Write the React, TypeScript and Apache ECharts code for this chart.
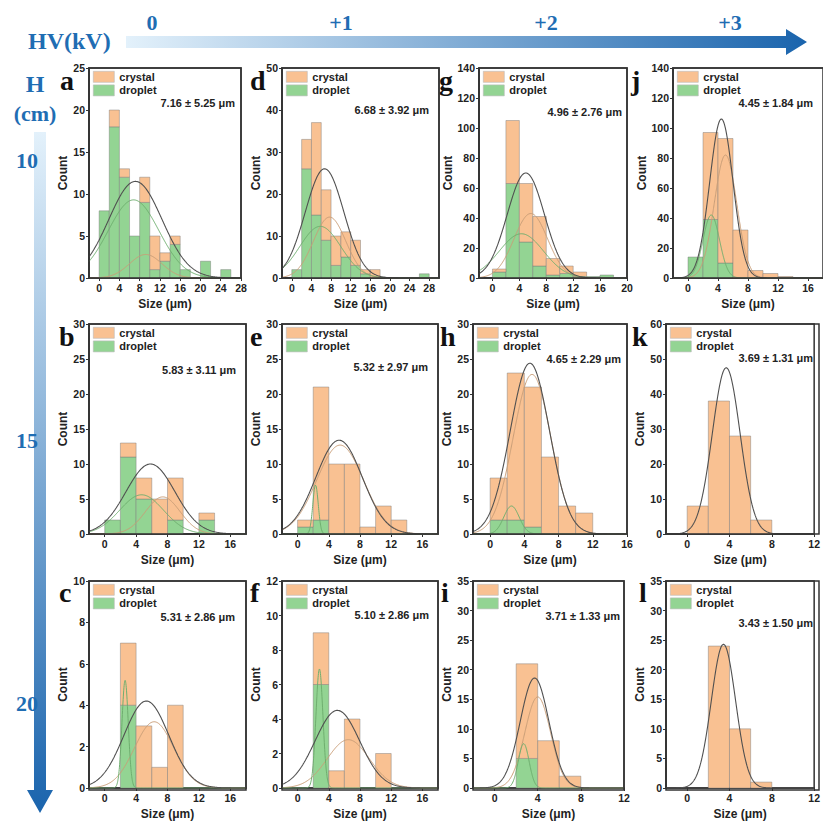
import React, { useEffect, useRef } from 'react';
import * as echarts from 'echarts';

// ---------------- data ----------------
const panelIds = ['a', 'd', 'g', 'j', 'b', 'e', 'h', 'k', 'c', 'f', 'i', 'l'];
const meanLabels = [
  '7.16 ± 5.25 μm', '6.68 ± 3.92 μm', '4.96 ± 2.76 μm', '4.45 ± 1.84 μm',
  '5.83 ± 3.11 μm', '5.32 ± 2.97 μm', '4.65 ± 2.29 μm', '3.69 ± 1.31 μm',
  '5.31 ± 2.86 μm', '5.10 ± 2.86 μm', '3.71 ± 1.33 μm', '3.43 ± 1.50 μm',
];
const binWidth = 2;
// droplet counts per 2 µm bin starting at 0
const dropletCounts = [
  [8, 18, 12, 5, 9, 1, 2, 4, 1, 0, 2, 0, 1],
  [2, 26, 15, 9, 3, 5, 3, 1, 0, 0, 0, 0, 0, 1],
  [4, 63, 24, 8, 2, 3, 1, 1, 2],
  [14, 39, 10, 0, 0, 0, 0],
  [2, 11, 5, 0, 2, 0, 2],
  [1, 2, 0, 0, 0, 0, 0],
  [2, 2, 1, 0, 0, 0],
  [0, 0, 0, 0],
  [0, 4, 0, 0, 0],
  [0, 6, 0, 0, 0, 0],
  [0, 5, 0, 0],
  [0, 0, 0, 0],
];
// crystal counts (stacked on top of droplet)
const crystalCounts = [
  [0, 2, 1, 0, 3, 4, 1, 1, 0, 0, 0, 0, 0],
  [0, 7, 22, 12, 7, 6, 6, 1, 2, 0, 0, 0, 0, 0],
  [2, 42, 39, 33, 11, 5, 3, 0, 0],
  [0, 58, 83, 32, 5, 3, 1],
  [0, 2, 3, 5, 6, 0, 1],
  [1, 19, 10, 10, 1, 4, 2],
  [6, 21, 20, 11, 4, 3],
  [8, 38, 28, 4],
  [0, 3, 3, 1, 4],
  [0, 3, 1, 4, 0, 2],
  [0, 16, 8, 2],
  [0, 24, 10, 1],
];
// Gaussian fits: [peak, centre, width]
const fitTotal = [
  [11.5, 7.16, 5.25], [26, 6.68, 3.92], [70, 4.96, 2.76], [106, 4.45, 1.55],
  [10, 5.83, 3.11], [13.4, 5.32, 2.97], [24.4, 4.65, 2.29], [47.5, 3.69, 1.31],
  [4.2, 5.31, 2.86], [4.5, 5.1, 2.86], [18.6, 3.71, 1.33], [24.3, 3.43, 1.15],
];
const fitCrystal = [
  [2.8, 9.2, 3.2], [14.5, 7.7, 3.3], [43, 5.7, 2.5], [82, 5.0, 1.5],
  [5.3, 7.4, 2.2], [12.7, 5.45, 3.0], [22.8, 4.9, 2.2], null,
  [3.2, 6.3, 2.5], [2.8, 6.5, 2.7], [15.4, 4.0, 1.2], null,
];
const fitDroplet = [
  [9.3, 6.8, 5.0], [12.3, 5.8, 4.2], [29.5, 4.3, 3.3], [42, 3.1, 1.1],
  [5.6, 4.7, 2.8], [7, 2.3, 0.35], [4, 2.5, 0.9], null,
  [5.2, 2.6, 0.4], [6.9, 2.8, 0.45], [7.5, 2.7, 0.5], null,
];
const xMin = -2;
const xMax = [28, 30, 20, 18, 18, 18, 16, 12, 18, 18, 12, 12];
const xTickMax = [28, 28, 20, 16, 16, 16, 16, 12, 16, 16, 12, 12];
const xStep = 4;
const yMax = [25, 50, 140, 140, 30, 30, 30, 60, 10, 12, 35, 35];
const yStep = [5, 10, 20, 20, 5, 5, 5, 10, 2, 2, 5, 5];
const hvLabels = ['0', '+1', '+2', '+3'];
const hLabels = ['10', '15', '20'];

// ---------------- layout ----------------
// [left, top, right, bottom] of each plot box
const boxes = [
  [89, 68, 241, 278], [282, 68, 439, 278], [479, 68, 627, 278], [673, 68, 825, 278],
  [89, 324, 246, 534], [282, 324, 438, 534], [473, 324, 627, 534], [666, 324, 819, 534],
  [89, 581, 246, 790], [282, 581, 438, 790], [473, 581, 624, 790], [666, 581, 819, 790],
];
const annotPos = [
  [235, 103], [429, 110], [622, 112], [813, 103],
  [236, 370], [428, 367], [621, 359], [813, 358],
  [235, 617], [429, 615], [620, 616], [813, 623],
];
const letterPos = [
  [60, 66], [250, 66], [439, 66], [631, 66],
  [59, 322], [250, 322], [440, 322], [632, 322],
  [59, 578], [250, 578], [441, 578], [639, 578],
];
const hvX = [152, 341, 546, 730];
const hY = [160, 440, 703];

const SANS = 'Liberation Sans, Arial, sans-serif';
const SERIF = 'Liberation Serif, Times New Roman, serif';
const BLUE = '#1f6db3';
const ORANGE = '#f9c192';
const GREEN = '#93d493';
const AXIS = '#333333';

function gauss(p: number[] | null, max: number) {
  if (!p) return [];
  const pts: number[][] = [];
  for (let k = 0; k <= (max - xMin) * 40; k++) {
    const x = xMin + k / 40;
    pts.push([x, p[0] * Math.exp(-((x - p[1]) ** 2) / (2 * p[2] * p[2]))]);
  }
  return pts;
}

function ticks(max: number) {
  const t: number[] = [];
  for (let v = 0; v <= max; v += xStep) t.push(v);
  return t;
}

function buildOption() {
  const grid: any[] = [];
  const xAxis: any[] = [];
  const yAxis: any[] = [];
  const series: any[] = [];
  const legend: any[] = [];
  const graphic: any[] = [];

  panelIds.forEach((id, i) => {
    const [l, t, r, b] = boxes[i];
    grid.push({
      left: l, top: t, width: r - l, height: b - t,
      show: true, borderColor: AXIS, borderWidth: 1.5, backgroundColor: 'rgba(255,255,255,0)',
    });
    const tv = ticks(xTickMax[i]);
    xAxis.push({
      type: 'value', gridIndex: i, min: xMin, max: xMax[i], position: 'bottom',
      axisLine: { show: true, onZero: false, lineStyle: { color: AXIS, width: 1.5 } },
      axisTick: { show: true, length: 3, customValues: tv, lineStyle: { color: AXIS } },
      axisLabel: { customValues: tv, fontSize: 10.5, fontWeight: 'bold', color: '#222', margin: 4, fontFamily: SANS },
      splitLine: { show: false },
      name: 'Size (μm)', nameLocation: 'middle', nameGap: 20,
      nameTextStyle: { fontSize: 12, fontWeight: 'bold', color: '#222', fontFamily: SANS },
    });
    yAxis.push({
      type: 'value', gridIndex: i, min: 0, max: yMax[i], interval: yStep[i], position: 'left',
      axisLine: { show: true, onZero: false, lineStyle: { color: AXIS, width: 1.5 } },
      axisTick: { show: true, length: 3, lineStyle: { color: AXIS } },
      axisLabel: { fontSize: 10.5, fontWeight: 'bold', color: '#222', margin: 4, fontFamily: SANS },
      splitLine: { show: false },
      name: 'Count', nameLocation: 'middle', nameGap: yMax[i] >= 100 ? 22 : 17,
      nameTextStyle: { fontSize: 12, fontWeight: 'bold', color: '#222', fontFamily: SANS },
    });
    // frame of the plot box (top and right edges)
    graphic.push({
      type: 'rect', z: 50, silent: true,
      shape: { x: l, y: t, width: r - l, height: b - t },
      style: { fill: 'rgba(0,0,0,0)', stroke: AXIS, lineWidth: 1.5 },
    });

    const dropData: number[][] = [];
    const crysData: number[][] = [];
    dropletCounts[i].forEach((d, k) => {
      const c = crystalCounts[i][k];
      const x0 = k * binWidth;
      if (d > 0) dropData.push([x0, x0 + binWidth, 0, d]);
      if (c > 0) crysData.push([x0, x0 + binWidth, d, d + c]);
    });
    const rectSeries = (name: string, data: number[][], color: string) => ({
      type: 'custom', name, xAxisIndex: i, yAxisIndex: i, data, z: 2,
      itemStyle: { color },
      encode: { x: [0, 1], y: [2, 3] },
      renderItem: (_p: any, api: any) => {
        const p0 = api.coord([api.value(0), api.value(3)]);
        const p1 = api.coord([api.value(1), api.value(2)]);
        return {
          type: 'rect',
          shape: { x: p0[0], y: p0[1], width: p1[0] - p0[0], height: p1[1] - p0[1] },
          style: { fill: color, stroke: 'rgba(120,120,120,0.55)', lineWidth: 0.8 },
        };
      },
    });
    series.push(rectSeries('droplet', dropData, GREEN));
    series.push(rectSeries('crystal', crysData, ORANGE));

    const lineSeries = (data: number[][], color: string, w: number, z: number) => ({
      type: 'line', xAxisIndex: i, yAxisIndex: i, data, showSymbol: false, silent: true,
      lineStyle: { color, width: w }, z, clip: true,
    });
    if (fitCrystal[i]) series.push(lineSeries(gauss(fitCrystal[i], xMax[i]), '#c99e78', 1, 3));
    if (fitDroplet[i]) series.push(lineSeries(gauss(fitDroplet[i], xMax[i]), '#6fae6f', 1, 3));
    series.push(lineSeries(gauss(fitTotal[i], xMax[i]), '#505050', 1.1, 4));

    legend.push({
      left: l + 4, top: t + 3, orient: 'vertical', itemWidth: 21, itemHeight: 11, itemGap: 2,
      padding: 0, selectedMode: false, icon: 'rect',
      textStyle: { fontSize: 11, fontWeight: 'bold', color: '#222', fontFamily: SANS },
      data: [
        { name: 'crystal', itemStyle: { color: ORANGE, borderColor: '#bbb', borderWidth: 0.6 } },
        { name: 'droplet', itemStyle: { color: GREEN, borderColor: '#bbb', borderWidth: 0.6 } },
      ],
    });

    graphic.push({
      type: 'text', x: annotPos[i][0], y: annotPos[i][1],
      style: { text: meanLabels[i], fontSize: 11, fontWeight: 'bold', fill: '#222', fontFamily: SANS, align: 'right', verticalAlign: 'middle' },
    });
    graphic.push({
      type: 'text', x: letterPos[i][0], y: letterPos[i][1],
      style: { text: id, fontSize: 28, fontWeight: 'bold', fill: '#111', fontFamily: SERIF, align: 'left', verticalAlign: 'top' },
    });
  });

  // header arrow
  graphic.push({
    type: 'polygon',
    shape: { points: [[126, 36], [786, 36], [786, 29], [807, 42], [786, 55], [786, 48], [126, 48]] },
    style: {
      fill: { type: 'linear', x: 0, y: 0, x2: 1, y2: 0, colorStops: [{ offset: 0, color: '#e3f1fb' }, { offset: 1, color: '#1a64ad' }] },
    },
  });
  graphic.push({
    type: 'text', x: 28, y: 41,
    style: { text: 'HV(kV)', fontSize: 24, fontWeight: 'bold', fill: BLUE, fontFamily: SERIF, verticalAlign: 'middle' },
  });
  hvLabels.forEach((t, k) => graphic.push({
    type: 'text', x: hvX[k], y: 22,
    style: { text: t, fontSize: 22, fontWeight: 'bold', fill: BLUE, fontFamily: SERIF, align: 'center', verticalAlign: 'middle' },
  }));
  // left arrow
  graphic.push({
    type: 'polygon',
    shape: { points: [[34, 132], [46, 132], [46, 790], [53, 790], [40, 813], [27, 790], [34, 790]] },
    style: {
      fill: { type: 'linear', x: 0, y: 0, x2: 0, y2: 1, colorStops: [{ offset: 0, color: '#e3f1fb' }, { offset: 1, color: '#1a64ad' }] },
    },
  });
  graphic.push({
    type: 'text', x: 35, y: 84,
    style: { text: 'H', fontSize: 24, fontWeight: 'bold', fill: BLUE, fontFamily: SERIF, align: 'center', verticalAlign: 'middle' },
  });
  graphic.push({
    type: 'text', x: 35, y: 113,
    style: { text: '(cm)', fontSize: 22, fontWeight: 'bold', fill: BLUE, fontFamily: SERIF, align: 'center', verticalAlign: 'middle' },
  });
  hLabels.forEach((t, k) => graphic.push({
    type: 'text', x: 27, y: hY[k],
    style: { text: t, fontSize: 22, fontWeight: 'bold', fill: BLUE, fontFamily: SERIF, align: 'center', verticalAlign: 'middle' },
  }));

  return { animation: false, backgroundColor: '#fff', grid, xAxis, yAxis, series, legend, graphic };
}

export default function App() {
  const ref = useRef<HTMLDivElement>(null);
  useEffect(() => {
    if (!ref.current) return;
    const chart = echarts.init(ref.current, undefined, { renderer: 'svg' });
    chart.setOption(buildOption() as any);
    return () => chart.dispose();
  }, []);
  return <div ref={ref} style={{ position: 'absolute', left: 0, top: 0, width: 823, height: 821 }} />;
}
